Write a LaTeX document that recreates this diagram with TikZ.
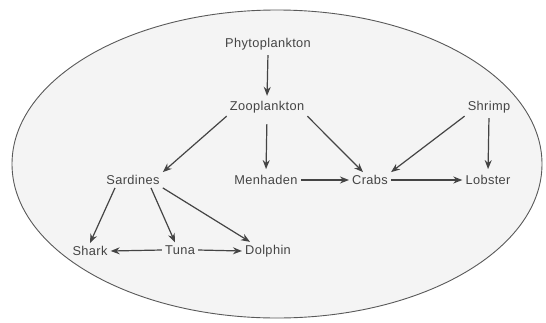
\documentclass[tikz,border=0pt]{standalone}
\usepackage{xcolor}
\usepackage{fontspec}
\setmainfont{Liberation Sans}[LetterSpace=3]
\usepackage{tikz}
\usetikzlibrary{arrows.meta}

\definecolor{seafill}{HTML}{F4F4F4}
\definecolor{inkgray}{HTML}{444444}

\begin{document}
\begin{tikzpicture}[
			x=1pt, y=-1pt,
			species/.style={inner sep=3pt, text=inkgray, font=\fontsize{12.8}{15}\selectfont},
			arrow/.style={-{Stealth[length=9pt, width=7pt]}, draw=inkgray, line width=1.2pt}
		]
		\useasboundingbox (0,0) rectangle (546,322);

		% Ocean
		\draw[fill=seafill, draw=black!65, line width=0.9pt] (277,164) ellipse [x radius=265, y radius=154];

		% Species
		\node[species] (phyto) at (268,44) {Phytoplankton};
		\node[species] (zoo) at (267,107) {Zooplankton};
		\node[species] (shrimp) at (489,107) {Shrimp};
		\node[species] (sardines) at (133,180) {Sardines};
		\node[species] (menhaden) at (266,180) {Menhaden};
		\node[species] (crabs) at (370,180) {Crabs};
		\node[species] (lobster) at (488,180) {Lobster};
		\node[species] (shark) at (90,251) {Shark};
		\node[species] (tuna) at (180,250) {Tuna};
		\node[species] (dolphin) at (268,251) {Dolphin};

		% Feeding links
		\draw[arrow, shorten <=2pt, shorten >=2pt] (phyto.south) -- (zoo.north);
		\draw[arrow] (zoo.south west) -- (sardines.north east);
		\draw[arrow, shorten <=8pt, shorten >=3pt] (zoo.south) -- (menhaden.north);
		\draw[arrow] (zoo.south east) -- ([xshift=-7pt]crabs.north);
		\draw[arrow] (shrimp.south west) -- (crabs.north east);
		\draw[arrow, shorten <=2pt, shorten >=3pt] (shrimp.south) -- (lobster.north);
		\draw[arrow] (menhaden.east) -- (crabs.west);
		\draw[arrow] (crabs.east) -- (lobster.west);

		\draw[arrow] ([xshift=-18pt]sardines.south) -- (shark.north);
		\draw[arrow] ([xshift=18pt]sardines.south) -- ([xshift=-5pt]tuna.north);
		\draw[arrow] (sardines.south east) -- ([xshift=8pt]dolphin.north west);
		\draw[arrow] (tuna.west) -- (shark.east);
		\draw[arrow] (tuna.east) -- (dolphin.west);

		\end{tikzpicture}
\end{document}
